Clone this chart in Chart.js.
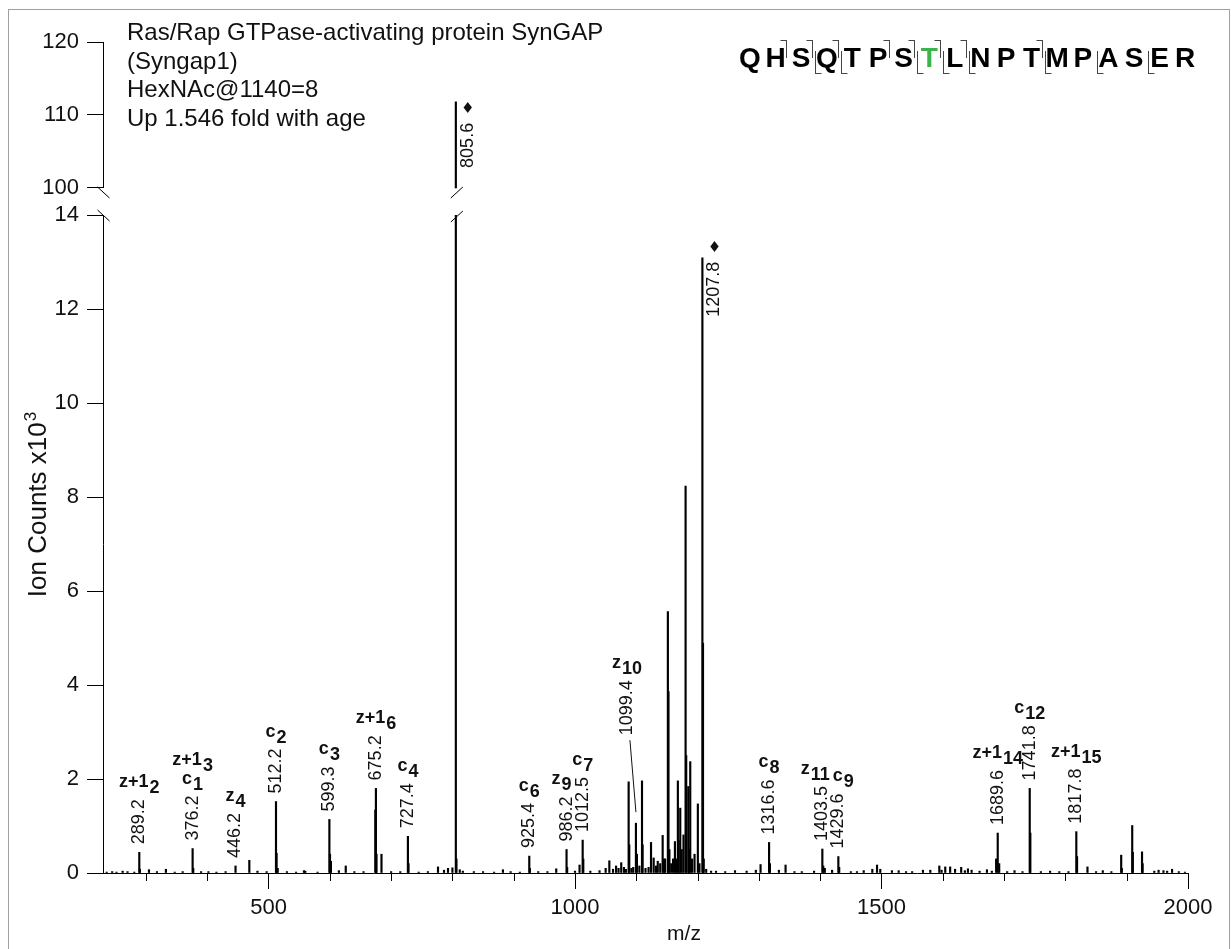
<!DOCTYPE html>
<html>
<head>
<meta charset="utf-8">
<script src="https://cdn.jsdelivr.net/npm/chart.js@4.4.0/dist/chart.umd.min.js"></script>
<style>
  html, body { margin: 0; padding: 0; background: #fff; }
  #wrap { position: relative; width: 1231px; height: 949px; overflow: hidden; }
  #frame { position: absolute; left: 8px; top: 9px; width: 1222px; height: 960px; border: 1px solid #a0a0a0; box-sizing: border-box; }
  #spec { position: absolute; left: 0; top: 0; }
</style>
</head>
<body>
<div id="wrap">
  <div id="frame"></div>
  <canvas id="spec" width="1231" height="949"></canvas>
</div>
<script>
// peak list: m/z and intensity (ion counts x10^3)
const mzValues = [
  236, 245, 252, 262, 270, 281, 289.2, 290.2, 305, 318, 332.6, 347, 360, 376.2, 377.2, 390, 402, 415, 430,
  446.2, 468.7, 482, 497, 512.2, 513.2, 515, 530, 545, 557.8, 560, 580, 599.3, 600.3, 601.8, 614.8, 626,
  640, 655, 674.2, 675.2, 676.2, 684.3, 700, 715, 727.4, 728.4, 745, 760, 776.5, 786.3, 792.8, 800,
  805.6, 806.6, 812, 817, 835, 850, 868, 882.4, 895, 910, 925.4, 926.4, 940, 955, 969.4, 986.2, 987.2,
  1000, 1007.4, 1012.5, 1013.5, 1025, 1040, 1050, 1056, 1062, 1067, 1071, 1075.4, 1079.8, 1083,
  1087.5, 1088.5, 1092, 1095, 1099.4, 1101, 1105, 1109.3, 1110.3, 1115, 1120, 1124, 1128.3, 1132,
  1135, 1139, 1143, 1145, 1147, 1151.5, 1152.5, 1154, 1157, 1160, 1163, 1165, 1167.8, 1169, 1171.7,
  1174, 1177, 1180.4, 1181.4, 1184.8, 1186, 1188, 1191, 1195, 1200.4, 1203, 1207.8, 1208.8, 1210,
  1214, 1222, 1230, 1245, 1261, 1280, 1295, 1302.7, 1316.6, 1318, 1332.6, 1343.5, 1358, 1370, 1390,
  1403.5, 1405, 1407.5, 1419.4, 1429.6, 1431, 1450, 1460, 1471, 1485, 1492.7, 1498, 1517, 1528, 1540,
  1550, 1567.6, 1579.6, 1594.3, 1598, 1604, 1612, 1620, 1630, 1636, 1641, 1647, 1660, 1672, 1680,
  1687, 1689.6, 1692, 1705, 1717, 1730, 1741.8, 1742.8, 1760, 1775, 1790, 1805, 1817.8, 1819, 1836,
  1850, 1861, 1875, 1891, 1892, 1909, 1910, 1925, 1926, 1945, 1952, 1960, 1966, 1974, 1985, 1995
];
const intensities = [
  0.02, 0.03, 0.02, 0.04, 0.03, 0.02, 0.44, 0.08, 0.07, 0.03, 0.08, 0.02, 0.03, 0.52, 0.10, 0.03, 0.03, 0.02, 0.03,
  0.15, 0.27, 0.04, 0.03, 1.52, 0.42, 0.10, 0.03, 0.02, 0.05, 0.04, 0.02, 1.14, 0.40, 0.25, 0.05, 0.15,
  0.03, 0.03, 1.34, 1.80, 0.40, 0.40, 0.03, 0.03, 0.78, 0.20, 0.02, 0.03, 0.13, 0.06, 0.10, 0.11,
  111.8, 0.30, 0.07, 0.04, 0.03, 0.03, 0.02, 0.07, 0.03, 0.02, 0.36, 0.10, 0.03, 0.03, 0.09, 0.50, 0.12,
  0.04, 0.17, 0.70, 0.30, 0.04, 0.05, 0.10, 0.26, 0.08, 0.15, 0.10, 0.22, 0.12, 0.08,
  1.94, 0.60, 0.10, 0.12, 1.06, 0.40, 0.15, 1.96, 0.60, 0.10, 0.12, 0.65, 0.32, 0.15,
  0.25, 0.20, 0.80, 0.30, 0.30, 5.56, 3.86, 0.50, 0.20, 0.30, 0.67, 0.30, 1.96, 0.70, 1.38,
  0.50, 0.81, 8.23, 2.50, 1.84, 0.50, 2.37, 0.30, 0.40, 1.47, 0.20, 13.09, 4.89, 0.30,
  0.08, 0.04, 0.04, 0.03, 0.05, 0.04, 0.06, 0.18, 0.65, 0.20, 0.06, 0.17, 0.03, 0.03, 0.04,
  0.51, 0.15, 0.10, 0.06, 0.35, 0.12, 0.03, 0.03, 0.05, 0.08, 0.17, 0.08, 0.05, 0.05, 0.03,
  0.03, 0.06, 0.06, 0.15, 0.06, 0.13, 0.13, 0.08, 0.12, 0.05, 0.09, 0.06, 0.04, 0.07, 0.04,
  0.30, 0.85, 0.20, 0.03, 0.05, 0.03, 1.80, 0.85, 0.03, 0.04, 0.03, 0.03, 0.88, 0.35, 0.13,
  0.03, 0.05, 0.03, 0.38, 0.10, 1.01, 0.44, 0.45, 0.20, 0.04, 0.06, 0.05, 0.04, 0.08, 0.03, 0.02
];

// annotated peaks and their fragment ions
const labelMz = [289.2, 376.2, 446.2, 512.2, 599.3, 675.2, 727.4, 805.6, 925.4, 986.2, 1012.5,
  1099.4, 1207.8, 1316.6, 1403.5, 1429.6, 1689.6, 1741.8, 1817.8];
const labelIons = [
  [['z+1', '2']], [['c', '1'], ['z+1', '3']], [['z', '4']], [['c', '2']], [['c', '3']], [['z+1', '6']],
  [['c', '4']], [], [['c', '6']], [['z', '9']], [['c', '7']], [['z', '10']], [], [['c', '8']],
  [['z', '11']], [['c', '9']], [['z+1', '14']], [['c', '12']], [['z+1', '15']]
];
const precursorMz = [805.6, 1207.8];

const xTicks = [300, 400, 500, 600, 700, 800, 900, 1000, 1100, 1200, 1300, 1400, 1500, 1600, 1700, 1800, 1900, 2000];
const yLowTicks = [0, 2, 4, 6, 8, 10, 12, 14];
const yHighTicks = [100, 110, 120];

const titleLines = ['Ras/Rap GTPase-activating protein SynGAP', '(Syngap1)', 'HexNAc@1140=8', 'Up 1.546 fold with age'];
const sequence = 'QHSQTPSTLNPTMPASER';
const glycoSite = 8;                          // T8 carries the HexNAc
const cSites = [2, 3, 4, 6, 7, 8, 9, 12];     // cleavage after residue n
const zSites = [3, 4, 7, 8, 9, 12, 14, 16];

const LOW_MAX = 14, HIGH_MIN = 100, HIGH_MAX = 120;
const HIGH_FLOOR = 96.3;   // upper segment reaches into the break gap
const FONT = '"Liberation Sans", Arial, sans-serif';

const lowData = mzValues.map((m, i) => ({ x: m, y: Math.min(intensities[i], LOW_MAX) }));
const highData = mzValues
  .map((m, i) => ({ x: m, y: intensities[i] }))
  .filter(p => p.y > LOW_MAX)
  .map(p => ({ x: p.x, y: [HIGH_MIN, p.y] }));

// small nudges so neighbouring labels do not collide
const ionShift = { 986.2: -5, 1403.5: -7, 1429.6: 5 };
const diamondDrop = { 805.6: 7, 1207.8: -10 };

function line(ctx, x1, y1, x2, y2) {
  ctx.beginPath(); ctx.moveTo(x1, y1); ctx.lineTo(x2, y2); ctx.stroke();
}

function drawIon(ctx, cx, baseY, base, sub) {
  ctx.font = 'bold 18px ' + FONT;
  const wb = ctx.measureText(base).width;
  const ws = ctx.measureText(sub).width;
  const start = cx - (wb + ws + 1) / 2;
  ctx.textAlign = 'left';
  ctx.textBaseline = 'alphabetic';
  ctx.fillText(base, start, baseY);
  ctx.fillText(sub, start + wb + 1, baseY + 6);
}

function drawVertical(ctx, text, x, y, align) {
  ctx.save();
  ctx.translate(x, y);
  ctx.rotate(-Math.PI / 2);
  ctx.textAlign = align;
  ctx.textBaseline = 'middle';
  ctx.fillText(text, 0, 0);
  ctx.restore();
}

const annotate = {
  id: 'annotate',
  afterDraw(chart) {
    const ctx = chart.ctx;
    const xs = chart.scales.x, lo = chart.scales.yLow, hi = chart.scales.yHigh;
    const axisX = Math.round(lo.right - 0.5) + 0.5;
    const peakTop = v => v > LOW_MAX ? hi.getPixelForValue(v) : lo.getPixelForValue(v);

    ctx.save();
    ctx.strokeStyle = '#000';
    ctx.fillStyle = '#000';
    ctx.lineWidth = 1;

    // upper axis segment and break marks
    const yTop = hi.getPixelForValue(HIGH_MAX);
    const yBrk = hi.getPixelForValue(HIGH_MIN);
    const yLoTop = lo.getPixelForValue(LOW_MAX);
    line(ctx, axisX, yTop, axisX, yBrk);
    line(ctx, axisX - 6, yBrk - 1, axisX + 6, yBrk + 10);
    line(ctx, axisX - 6, yLoTop - 5, axisX + 6, yLoTop + 6);
    highData.forEach(p => {
      const px = xs.getPixelForValue(p.x);
      ctx.fillStyle = '#fff';
      ctx.fillRect(px - 2, yBrk + 1, 4, yLoTop - yBrk - 1);
      ctx.fillStyle = '#000';
      line(ctx, px - 5, yBrk + 10, px + 7, yBrk - 1);
      line(ctx, px - 5, yLoTop + 7, px + 7, yLoTop - 4);
    });

    // minor x ticks
    xTicks.forEach(v => {
      if (v % 500 !== 0) {
        const px = Math.round(xs.getPixelForValue(v)) + 0.5;
        line(ctx, px, xs.top, px, xs.top + 8);
      }
    });

    // peak annotations
    labelMz.forEach((mz, i) => {
      const idx = mzValues.indexOf(mz);
      const v = intensities[idx];
      const px = xs.getPixelForValue(mz);
      const top = peakTop(v);
      ctx.fillStyle = '#111';
      ctx.font = '18px ' + FONT;
      const txt = mz.toFixed(1);
      const w = ctx.measureText(txt).width;
      if (precursorMz.includes(mz)) {
        const dy = top + (diamondDrop[mz] || 0);
        drawVertical(ctx, txt, px + 12, dy + 14, 'right');
        ctx.font = '15px "DejaVu Sans", sans-serif';
        ctx.textAlign = 'center';
        ctx.textBaseline = 'middle';
        ctx.fillText('\u2666', px + 12, dy);
        return;
      }
      let bottom = top - 8;
      let nx = px;
      if (mz === 1099.4) {
        bottom = top - 88;
        nx = px - 9;
        ctx.strokeStyle = '#111';
        line(ctx, px - 6, bottom + 5, px, top - 11);
      }
      drawVertical(ctx, txt, nx, bottom, 'left');
      let base = bottom - w - 12;
      const shift = ionShift[mz] || 0;
      labelIons[i].forEach(ion => {
        drawIon(ctx, nx + shift, base, ion[0], ion[1]);
        base -= 19;
      });
    });

    // title block
    ctx.fillStyle = '#111';
    ctx.font = '24px ' + FONT;
    ctx.textAlign = 'left';
    ctx.textBaseline = 'alphabetic';
    titleLines.forEach((t, i) => ctx.fillText(t, 127, 40 + i * 28.5));

    // peptide sequence with fragment markers
    const seqX0 = 750, seqStep = 25.6, seqBase = 67;
    ctx.font = 'bold 28px ' + FONT;
    ctx.textAlign = 'center';
    for (let i = 0; i < sequence.length; i++) {
      ctx.fillStyle = (i + 1 === glycoSite) ? '#3cb44b' : '#000';
      ctx.fillText(sequence[i], seqX0 + i * seqStep, seqBase);
    }
    ctx.strokeStyle = '#444';
    cSites.forEach(n => {
      const gx = Math.round(seqX0 + (n - 0.5) * seqStep) - 1.5;
      line(ctx, gx, 40, gx, 58);
      line(ctx, gx - 6, 40.5, gx, 40.5);
    });
    zSites.forEach(n => {
      const gx = Math.round(seqX0 + (n - 0.5) * seqStep) + 1.5;
      line(ctx, gx, 51, gx, 74);
      line(ctx, gx, 73.5, gx + 6, 73.5);
    });

    // axis titles
    ctx.fillStyle = '#111';
    ctx.font = '21px ' + FONT;
    ctx.textAlign = 'center';
    ctx.fillText('m/z', 684, 940);

    ctx.save();
    ctx.translate(46, 505);
    ctx.rotate(-Math.PI / 2);
    ctx.font = '26px ' + FONT;
    const main = 'Ion Counts x10';
    const mw = ctx.measureText(main).width;
    ctx.font = '17px ' + FONT;
    const sw = ctx.measureText('3').width;
    const start = -(mw + sw) / 2;
    ctx.textAlign = 'left';
    ctx.font = '26px ' + FONT;
    ctx.fillText(main, start, 0);
    ctx.font = '17px ' + FONT;
    ctx.fillText('3', start + mw + 1, -10);
    ctx.restore();

    ctx.restore();
  }
};

const yTickStyle = {
  drawOnChartArea: false, drawTicks: true, tickLength: 16, tickColor: '#000'
};

new Chart(document.getElementById('spec').getContext('2d'), {
  type: 'bar',
  data: {
    datasets: [
      { data: lowData, yAxisID: 'yLow', backgroundColor: '#000', barThickness: 1.5, grouped: false },
      { data: highData, yAxisID: 'yHigh', backgroundColor: '#000', barThickness: 1.5, grouped: false }
    ]
  },
  options: {
    responsive: false,
    animation: false,
    layout: { padding: { left: 0, right: 43, top: 42, bottom: 0 } },
    plugins: { legend: { display: false }, tooltip: { enabled: false } },
    scales: {
      x: {
        type: 'linear', min: 230, max: 2000, offset: false,
        afterBuildTicks: s => { s.ticks = xTicks.map(v => ({ value: v })); },
        afterFit: s => { s.height = 76; },
        grid: {
          drawOnChartArea: false, drawTicks: true, tickLength: 16, offset: false,
          tickColor: c => (c.tick && c.tick.value % 500 === 0) ? '#000' : 'rgba(0,0,0,0)'
        },
        border: { color: '#000', width: 1 },
        ticks: {
          font: { family: FONT, size: 22 }, color: '#111', padding: 6, maxRotation: 0, autoSkip: false,
          callback: v => (v % 500 === 0 ? String(v) : '')
        }
      },
      yLow: {
        type: 'linear', position: 'left', stack: 'counts', stackWeight: 658, weight: 0,
        min: 0, max: LOW_MAX,
        afterBuildTicks: s => { s.ticks = yLowTicks.map(v => ({ value: v })); },
        afterFit: s => { s.width = 103; },
        grid: yTickStyle,
        border: { color: '#000', width: 1 },
        ticks: { font: { family: FONT, size: 22 }, color: '#111', padding: 8 }
      },
      yHigh: {
        type: 'linear', position: 'left', stack: 'counts', stackWeight: 173, weight: 1,
        min: HIGH_FLOOR, max: HIGH_MAX,
        afterBuildTicks: s => { s.ticks = yHighTicks.map(v => ({ value: v })); },
        afterFit: s => { s.width = 103; },
        grid: yTickStyle,
        border: { display: false },
        ticks: { font: { family: FONT, size: 22 }, color: '#111', padding: 8 }
      }
    }
  },
  plugins: [annotate]
});
</script>
</body>
</html>
